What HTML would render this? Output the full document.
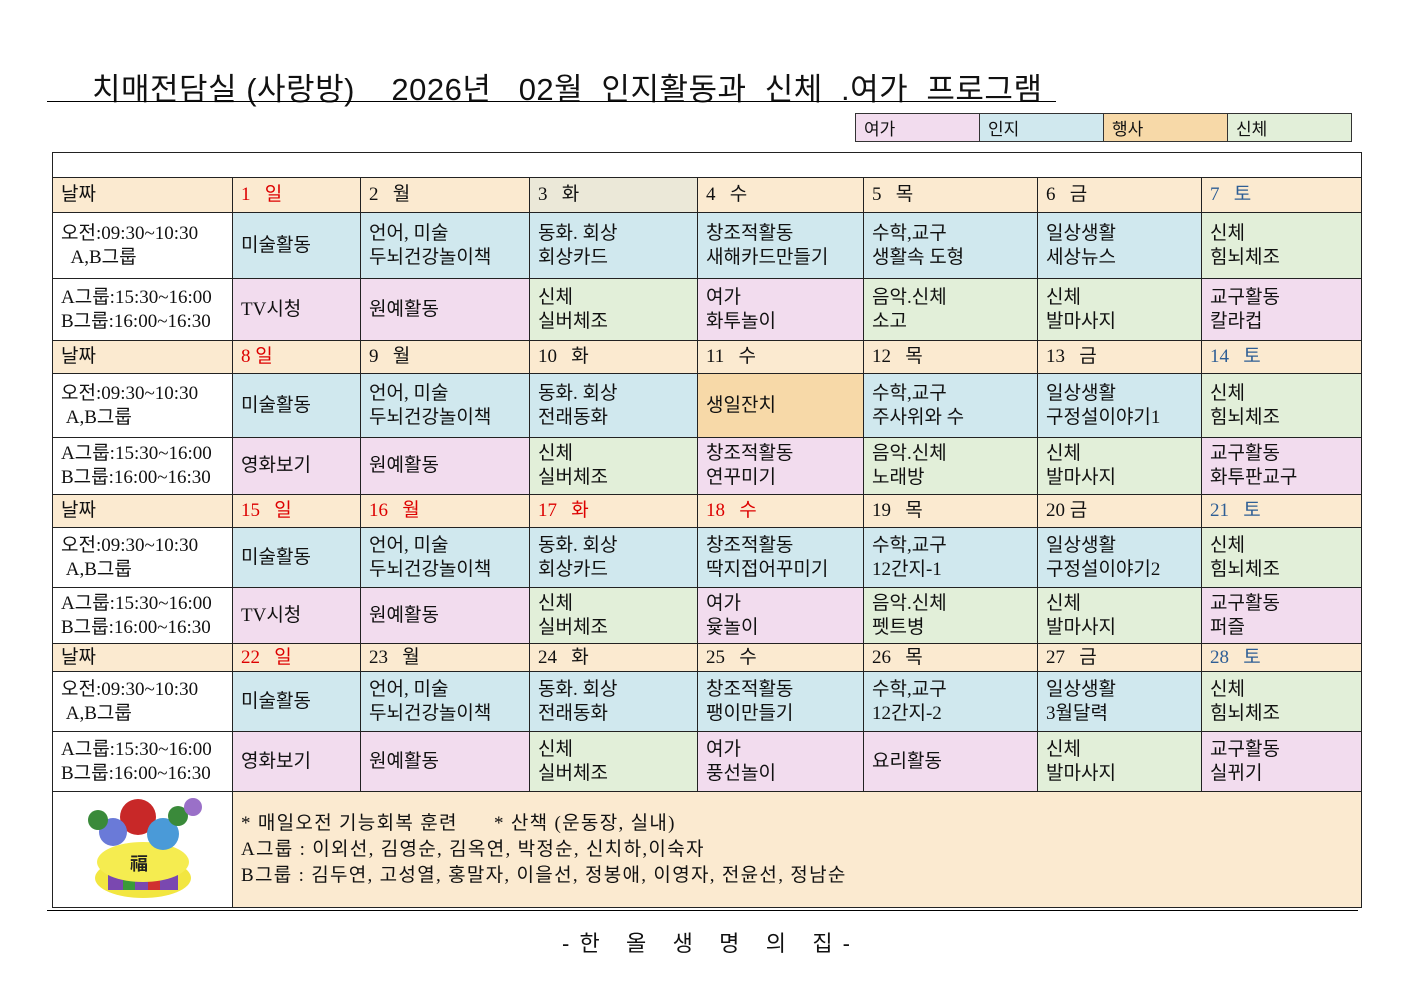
<!DOCTYPE html>
<html><head><meta charset="utf-8"><style>
body{margin:0;width:1403px;height:992px;background:#fff;position:relative;font-family:"Liberation Serif","Noto Sans CJK KR",serif;color:#111;overflow:hidden}
.title{position:absolute;left:92px;top:64px;font-size:31px;font-family:"Liberation Sans","Noto Sans CJK KR",sans-serif;white-space:pre;letter-spacing:0.5px}
.tl{position:absolute;left:47px;top:101px;width:1009px;height:1px;background:#000}
.leg{position:absolute;left:855px;top:113px;border-collapse:collapse;font-size:17px;table-layout:fixed;width:496px}
.leg td{border:1px solid #333;width:124px;height:28px;padding:0 0 0 8px;box-sizing:border-box}
table.m{position:absolute;left:52px;top:152px;border-collapse:collapse;table-layout:fixed;width:1309px;font-size:19px}
table.m td{border:1px solid #222;padding:0 0 0 8px;line-height:24px;vertical-align:middle;box-sizing:border-box;overflow:hidden;white-space:nowrap}
.d{background:#fbead0}.B{background:#d0e8ee}.P{background:#f2dcee}.G{background:#e2efd9}.O{background:#f7d9a8}.W{background:#fff}.E{background:#ebe8d8}
.r{color:#d00}.bl{color:#2e5e95}
.bot{position:absolute;left:47px;top:910px;width:1311px;height:1px;background:#000}
.foot{position:absolute;left:562px;top:926px;font-size:22px;white-space:pre;font-family:"Liberation Sans","Noto Sans CJK KR",sans-serif;letter-spacing:2px}
</style></head><body>
<div class="title">치매전담실 (사랑방)    2026년   02월  인지활동과  신체  .여가  프로그램</div>
<div class="tl"></div>
<table class="leg"><tr><td style="background:#f2dcee">여가</td><td style="background:#d0e8ee">인지</td><td style="background:#f7d9a8">행사</td><td style="background:#e2efd9">신체</td></tr></table>
<table class="m">
<colgroup><col style="width:180px"><col style="width:128px"><col style="width:169px"><col style="width:168px"><col style="width:166px"><col style="width:174px"><col style="width:164px"><col style="width:160px"></colgroup>
<tr style="height:25px"><td colspan="8" class="W"></td></tr>
<tr style="height:35px" class="d"><td>날짜</td><td class="r">1 &nbsp; 일</td><td>2 &nbsp; 월</td><td class="E">3 &nbsp; 화</td><td>4 &nbsp; 수</td><td>5 &nbsp; 목</td><td>6 &nbsp; 금</td><td class="bl">7 &nbsp; 토</td></tr>
<tr style="height:66px"><td class="W">오전:09:30~10:30<br>&nbsp;&nbsp;A,B그룹</td><td class="B">미술활동</td><td class="B">언어, 미술<br>두뇌건강놀이책</td><td class="B">동화. 회상<br>회상카드</td><td class="B">창조적활동<br>새해카드만들기</td><td class="B">수학,교구<br>생활속 도형</td><td class="B">일상생활<br>세상뉴스</td><td class="G">신체<br>힘뇌체조</td></tr>
<tr style="height:62px"><td class="W">A그룹:15:30~16:00<br>B그룹:16:00~16:30</td><td class="P">TV시청</td><td class="P">원예활동</td><td class="G">신체<br>실버체조</td><td class="P">여가<br>화투놀이</td><td class="G">음악.신체<br>소고</td><td class="G">신체<br>발마사지</td><td class="P">교구활동<br>칼라컵</td></tr>
<tr style="height:33px" class="d"><td>날짜</td><td class="r">8 일</td><td>9 &nbsp; 월</td><td>10 &nbsp; 화</td><td>11 &nbsp; 수</td><td>12 &nbsp; 목</td><td>13 &nbsp; 금</td><td class="bl">14 &nbsp; 토</td></tr>
<tr style="height:64px"><td class="W">오전:09:30~10:30<br>&nbsp;A,B그룹</td><td class="B">미술활동</td><td class="B">언어, 미술<br>두뇌건강놀이책</td><td class="B">동화. 회상<br>전래동화</td><td class="O">생일잔치</td><td class="B">수학,교구<br>주사위와 수</td><td class="B">일상생활<br>구정설이야기1</td><td class="G">신체<br>힘뇌체조</td></tr>
<tr style="height:57px"><td class="W">A그룹:15:30~16:00<br>B그룹:16:00~16:30</td><td class="P">영화보기</td><td class="P">원예활동</td><td class="G">신체<br>실버체조</td><td class="P">창조적활동<br>연꾸미기</td><td class="G">음악.신체<br>노래방</td><td class="G">신체<br>발마사지</td><td class="P">교구활동<br>화투판교구</td></tr>
<tr style="height:33px" class="d"><td>날짜</td><td class="r">15 &nbsp; 일</td><td class="r">16 &nbsp; 월</td><td class="r">17 &nbsp; 화</td><td class="r">18 &nbsp; 수</td><td>19 &nbsp; 목</td><td>20 금</td><td class="bl">21 &nbsp; 토</td></tr>
<tr style="height:60px"><td class="W">오전:09:30~10:30<br>&nbsp;A,B그룹</td><td class="B">미술활동</td><td class="B">언어, 미술<br>두뇌건강놀이책</td><td class="B">동화. 회상<br>회상카드</td><td class="B">창조적활동<br>딱지접어꾸미기</td><td class="B">수학,교구<br>12간지-1</td><td class="B">일상생활<br>구정설이야기2</td><td class="G">신체<br>힘뇌체조</td></tr>
<tr style="height:56px"><td class="W">A그룹:15:30~16:00<br>B그룹:16:00~16:30</td><td class="P">TV시청</td><td class="P">원예활동</td><td class="G">신체<br>실버체조</td><td class="P">여가<br>윷놀이</td><td class="G">음악.신체<br>펫트병</td><td class="G">신체<br>발마사지</td><td class="P">교구활동<br>퍼즐</td></tr>
<tr style="height:28px" class="d"><td>날짜</td><td class="r">22 &nbsp; 일</td><td>23 &nbsp; 월</td><td>24 &nbsp; 화</td><td>25 &nbsp; 수</td><td>26 &nbsp; 목</td><td>27 &nbsp; 금</td><td class="bl">28 &nbsp; 토</td></tr>
<tr style="height:60px"><td class="W">오전:09:30~10:30<br>&nbsp;A,B그룹</td><td class="B">미술활동</td><td class="B">언어, 미술<br>두뇌건강놀이책</td><td class="B">동화. 회상<br>전래동화</td><td class="B">창조적활동<br>팽이만들기</td><td class="B">수학,교구<br>12간지-2</td><td class="B">일상생활<br>3월달력</td><td class="G">신체<br>힘뇌체조</td></tr>
<tr style="height:60px"><td class="W">A그룹:15:30~16:00<br>B그룹:16:00~16:30</td><td class="P">영화보기</td><td class="P">원예활동</td><td class="G">신체<br>실버체조</td><td class="P">여가<br>풍선놀이</td><td class="P">요리활동</td><td class="G">신체<br>발마사지</td><td class="P">교구활동<br>실뀌기</td></tr>
<tr style="height:116px"><td class="W" style="padding:0;text-align:center">
<svg width="150" height="108" viewBox="0 0 150 108">
<ellipse cx="75" cy="86" rx="48" ry="20" fill="#f2e640"/>
<rect x="40" y="82" width="70" height="16" fill="#7a48b0"/>
<rect x="55" y="82" width="12" height="16" fill="#3a9a3a"/><rect x="80" y="82" width="12" height="16" fill="#d03030"/>
<ellipse cx="75" cy="70" rx="46" ry="20" fill="#f5ec50"/>
<text x="62" y="78" font-size="18" font-weight="bold" fill="#222" font-family="Noto Sans CJK KR">福</text>
<circle cx="70" cy="25" r="18" fill="#c82828"/><circle cx="45" cy="40" r="14" fill="#6a7ad8"/><circle cx="95" cy="42" r="16" fill="#4a9ad8"/>
<circle cx="30" cy="28" r="10" fill="#3a8a3a"/><circle cx="110" cy="24" r="10" fill="#3a8a3a"/><circle cx="125" cy="15" r="9" fill="#9a70c8"/>
</svg></td>
<td colspan="7" class="d" style="line-height:26px;font-size:19px;letter-spacing:1.3px">* 매일오전 기능회복 훈련 &nbsp;&nbsp;&nbsp;&nbsp;&nbsp;* 산책 (운동장, 실내)<br>A그룹 : 이외선, 김영순, 김옥연, 박정순, 신치하,이숙자<br>B그룹 : 김두연, 고성열, 홍말자, 이을선, 정봉애, 이영자, 전윤선, 정남순</td></tr>
</table>
<div class="bot"></div>
<div class="foot">- 한   올   생   명   의   집 -</div>
</body></html>
